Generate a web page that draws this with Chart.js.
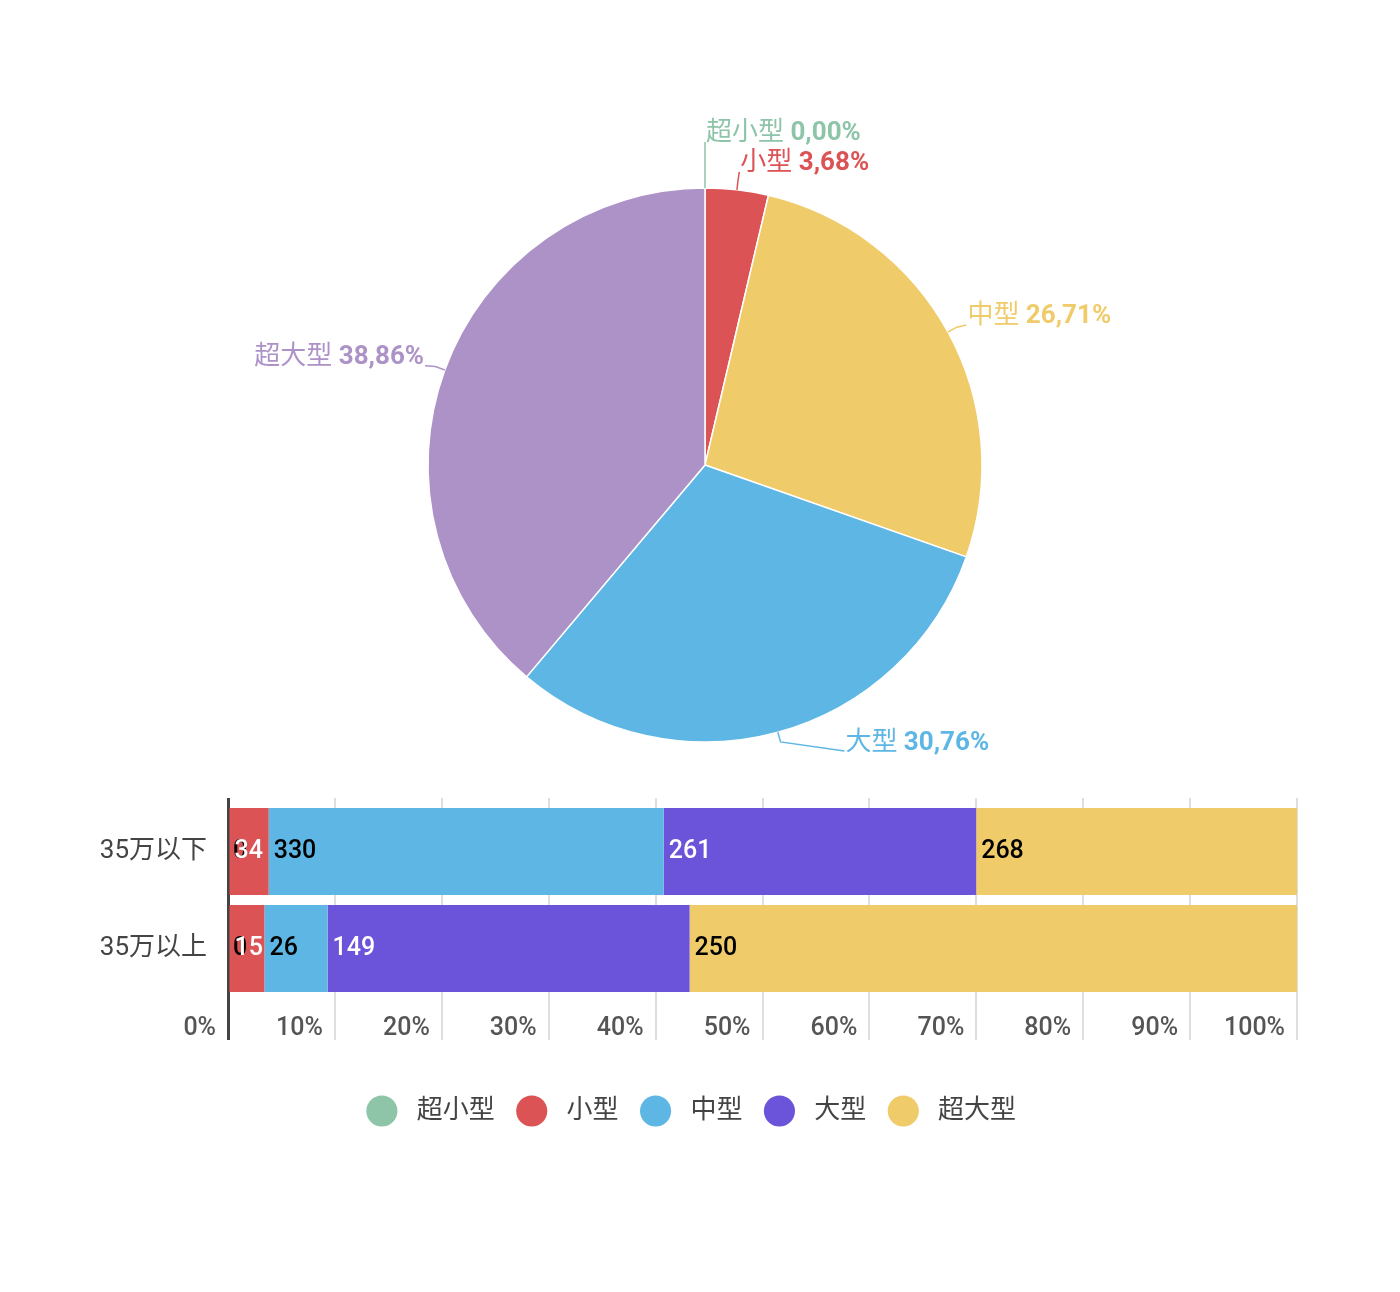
<!DOCTYPE html>
<html lang="zh">
<head>
<meta charset="utf-8">
<title>车型占比</title>
<script src="https://cdn.jsdelivr.net/npm/chart.js@4.4.1/dist/chart.umd.min.js"></script>
<style>
  html, body { margin: 0; padding: 0; background: #fff; }
  #wrap { position: relative; width: 1400px; height: 1292px; }
  #pie { position: absolute; left: 0; top: 0; }
  #bar { position: absolute; left: 0; top: 770px; }
</style>
</head>
<body>
<div id="wrap">
  <canvas id="pie" width="1400" height="770"></canvas>
  <canvas id="bar" width="1400" height="400"></canvas>
</div>
<script>
// data
const sizeNames = ['超小型', '小型', '中型', '大型', '超大型'];
const priceGroups = ['35万以下', '35万以上'];
const superSmall = [0, 0];
const small = [34, 15];
const medium = [330, 26];
const large = [261, 149];
const superLarge = [268, 250];
const pieValues = [0, 49, 356, 410, 518];

// colours
const barColors = ['#8ec5a9', '#dc5356', '#5eb6e4', '#6c54da', '#efcb6a'];
const pieColors = ['#8ec5a9', '#dc5356', '#efcb6a', '#5eb6e4', '#ad92c8'];

const FONT = 'Roboto, "Noto Sans CJK SC", sans-serif';
Chart.defaults.font.family = FONT;
Chart.defaults.animation = false;

function isDark(hex) {
  const n = parseInt(hex.slice(1), 16);
  const r = n >> 16, g = (n >> 8) & 255, b = n & 255;
  return 0.299 * r + 0.587 * g + 0.114 * b < 140;
}

// pie labels with leader lines
const TEXT_RISE = 5;
const pieLabels = {
  id: 'pieLabels',
  afterDatasetsDraw(chart) {
    const ctx = chart.ctx;
    const ds = chart.data.datasets[0];
    const total = ds.data.reduce((a, b) => a + b, 0);
    const items = chart.getDatasetMeta(0).data.map((arc, i) => {
      const p = arc.getProps(['x', 'y', 'startAngle', 'endAngle', 'outerRadius'], true);
      const mid = (p.startAngle + p.endAngle) / 2;
      const cos = Math.cos(mid), sin = Math.sin(mid);
      const R = p.outerRadius + 21;
      return { i, cos, sin, cx: p.x, cy: p.y, r: p.outerRadius, R, value: ds.data[i],
        right: cos > -1e-6, lx: p.x + cos * R, ly: p.y + sin * R, moved: false };
    });

    [true, false].forEach(side => {
      const dir = side ? 1 : -1;
      const list = items.filter(it => it.right === side);
      // keep text above the bottom of the pie
      list.forEach(it => {
        const maxText = it.cy + it.r + 1;
        if (it.ly - TEXT_RISE > maxText) {
          const dy = maxText - it.cy;
          const R2 = it.R + 13;
          it.ly = maxText + TEXT_RISE;
          it.lx = it.cx + dir * Math.sqrt(R2 * R2 - dy * dy);
        }
      });
      // separate overlapping labels, moving the smaller slice
      list.sort((a, b) => a.ly - b.ly);
      for (let k = 1; k < list.length; k++) {
        const a = list[k - 1], b = list[k];
        if (b.ly - a.ly < 30) {
          if (a.value <= b.value) { a.ly = b.ly - 30; a.moved = true; }
          else { b.ly = a.ly + 30; b.moved = true; }
        }
      }
      list.forEach(it => {
        if (!it.moved) return;
        const dy = it.ly - it.cy;
        it.lx = it.cx + dir * Math.sqrt(Math.max(0, it.R * it.R - dy * dy));
      });
    });

    ctx.save();
    items.forEach(it => {
      const color = ds.backgroundColor[it.i];
      const pct = (ds.data[it.i] / total * 100).toFixed(2).replace('.', ',') + '%';
      const name = chart.data.labels[it.i] + ' ';
      ctx.font = '26px ' + FONT;
      const wName = ctx.measureText(name).width;
      ctx.font = 'bold 26px ' + FONT;
      const wPct = ctx.measureText(pct).width;
      const x0 = it.right ? it.lx + 1 : it.lx - 1 - wName - wPct;
      const ty = it.ly - TEXT_RISE;

      ctx.strokeStyle = color;
      ctx.lineWidth = 1.5;
      ctx.beginPath();
      ctx.moveTo(it.cx + it.cos * it.r, it.cy + it.sin * it.r);
      ctx.lineTo(it.cx + it.cos * (it.r + 10), it.cy + it.sin * (it.r + 10));
      ctx.lineTo(it.lx, it.ly + 3);
      ctx.stroke();

      ctx.fillStyle = color;
      ctx.textBaseline = 'middle';
      ctx.textAlign = 'left';
      ctx.font = '26px ' + FONT;
      ctx.fillText(name, x0, ty);
      ctx.font = 'bold 26px ' + FONT;
      ctx.fillText(pct, x0 + wName, ty);
    });
    ctx.restore();
  }
};

// raw counts written at the start of each bar segment
const barLabels = {
  id: 'barLabels',
  afterDatasetsDraw(chart) {
    const ctx = chart.ctx;
    ctx.save();
    ctx.font = '500 25px ' + FONT;
    ctx.textBaseline = 'middle';
    ctx.textAlign = 'left';
    chart.data.datasets.forEach((ds, d) => {
      chart.getDatasetMeta(d).data.forEach((bar, i) => {
        const p = bar.getProps(['x', 'y', 'base'], true);
        ctx.fillStyle = isDark(ds.backgroundColor) ? '#fff' : '#000';
        ctx.fillText(String(ds.counts[i]), Math.min(p.x, p.base) + 5, p.y);
      });
    });
    ctx.restore();
  }
};

new Chart(document.getElementById('pie'), {
  type: 'pie',
  data: {
    labels: sizeNames,
    datasets: [{
      data: pieValues,
      backgroundColor: pieColors,
      borderColor: '#fff',
      borderWidth: 1.5,
      radius: 277
    }]
  },
  options: {
    responsive: false,
    layout: { padding: { top: 188, bottom: 28, left: 428, right: 418 } },
    plugins: { legend: { display: false }, tooltip: { enabled: false } }
  },
  plugins: [pieLabels]
});

const series = [superSmall, small, medium, large, superLarge];
const rowTotals = priceGroups.map((g, i) => series.reduce((s, arr) => s + arr[i], 0));

const zeroLine = c => c.tick && c.tick.value === 0;

new Chart(document.getElementById('bar'), {
  type: 'bar',
  data: {
    labels: priceGroups,
    datasets: series.map((arr, k) => ({
      label: sizeNames[k],
      counts: arr,
      data: arr.map((v, i) => v / rowTotals[i] * 100),
      backgroundColor: barColors[k],
      borderWidth: 0,
      categoryPercentage: 1,
      barPercentage: 0.897
    }))
  },
  options: {
    responsive: false,
    indexAxis: 'y',
    layout: { padding: { top: 28, bottom: 36, left: 88, right: 103 } },
    scales: {
      x: {
        stacked: true,
        min: 0,
        max: 100,
        afterFit: s => { s.height = 77; },
        ticks: {
          stepSize: 10,
          autoSkip: false,
          maxRotation: 0,
          align: 'end',
          labelOffset: -12,
          padding: -26,
          color: '#555',
          font: { size: 25, weight: '500' },
          callback: v => v + '%'
        },
        grid: {
          tickLength: 43,
          color: c => zeroLine(c) ? '#444' : '#dedede',
          lineWidth: c => zeroLine(c) ? 3 : 2
        },
        border: { display: false }
      },
      x2: {
        position: 'top',
        min: 0,
        max: 100,
        z: 1,
        ticks: { display: false, stepSize: 10 },
        grid: {
          tickLength: 5,
          color: c => zeroLine(c) ? '#444' : 'rgba(0,0,0,0)',
          tickColor: c => zeroLine(c) ? '#444' : '#dedede',
          lineWidth: c => zeroLine(c) ? 3 : 2
        },
        border: { display: false }
      },
      y: {
        stacked: true,
        afterFit: s => { s.width = 140; s.paddingTop = 0; s.paddingBottom = 0; },
        grid: { display: false, drawTicks: false },
        border: { display: false },
        ticks: { padding: 21, color: '#444', font: { size: 26 } }
      }
    },
    plugins: {
      tooltip: { enabled: false },
      legend: {
        position: 'bottom',
        labels: {
          usePointStyle: true,
          pointStyle: 'circle',
          boxHeight: 22,
          padding: 24,
          color: '#444',
          font: { size: 26 },
          generateLabels: chart =>
            Chart.defaults.plugins.legend.labels.generateLabels(chart)
              .map(item => Object.assign(item, { text: '\u2004' + item.text }))
        }
      }
    }
  },
  plugins: [barLabels]
});
</script>
</body>
</html>
